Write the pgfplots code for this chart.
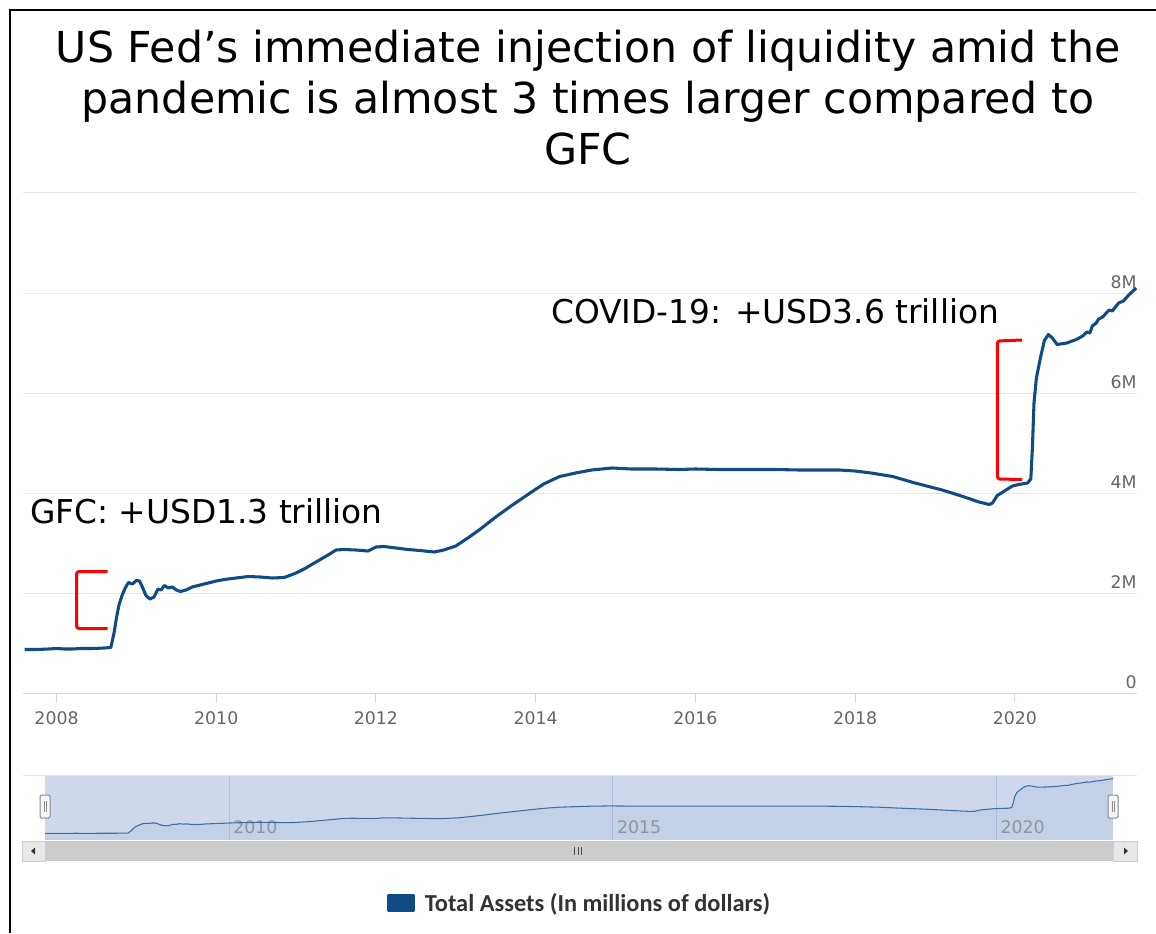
\documentclass[border=0pt]{standalone}
\usepackage{fontspec}
\setmainfont{DejaVu Sans}
\newfontfamily\legfont{Carlito}
\usepackage{pgfplots}
\usepackage{pgfplotstable}
\pgfplotsset{compat=1.18}
\definecolor{lineblue}{RGB}{16,75,134}
\definecolor{gridcol}{RGB}{230,230,230}
\definecolor{axiscol}{RGB}{204,214,235}
\definecolor{labcol}{RGB}{102,102,102}
\definecolor{navbg}{RGB}{207,216,235}
\definecolor{navline}{RGB}{60,110,170}
\definecolor{navgrid}{RGB}{180,193,220}
\definecolor{scroll}{RGB}{204,204,204}
\definecolor{scrollbtn}{RGB}{232,232,232}

\pgfplotstableread{
year val
2007.60 0.87
2007.75 0.87
2007.90 0.88
2008.00 0.89
2008.10 0.88
2008.20 0.88
2008.30 0.89
2008.45 0.89
2008.60 0.90
2008.68 0.91
2008.72 1.20
2008.75 1.50
2008.78 1.75
2008.82 1.95
2008.86 2.10
2008.90 2.21
2008.95 2.18
2009.00 2.25
2009.04 2.24
2009.08 2.10
2009.12 1.95
2009.17 1.88
2009.22 1.92
2009.27 2.08
2009.31 2.06
2009.35 2.15
2009.40 2.10
2009.45 2.12
2009.50 2.06
2009.55 2.03
2009.62 2.06
2009.70 2.12
2009.80 2.16
2009.90 2.20
2010.00 2.24
2010.10 2.27
2010.25 2.30
2010.40 2.33
2010.55 2.32
2010.70 2.30
2010.85 2.31
2011.00 2.40
2011.10 2.48
2011.25 2.62
2011.40 2.76
2011.50 2.86
2011.60 2.87
2011.75 2.86
2011.90 2.84
2012.00 2.92
2012.10 2.93
2012.25 2.90
2012.40 2.87
2012.55 2.85
2012.73 2.82
2012.85 2.86
2013.00 2.94
2013.15 3.10
2013.30 3.27
2013.50 3.52
2013.70 3.75
2013.93 4.00
2014.10 4.18
2014.30 4.33
2014.50 4.40
2014.70 4.46
2014.96 4.50
2015.20 4.48
2015.50 4.48
2015.80 4.47
2016.00 4.48
2016.30 4.47
2016.60 4.47
2017.00 4.47
2017.30 4.46
2017.60 4.46
2017.80 4.46
2018.00 4.44
2018.20 4.40
2018.47 4.33
2018.75 4.20
2019.09 4.06
2019.35 3.93
2019.55 3.82
2019.68 3.77
2019.72 3.80
2019.78 3.95
2019.85 4.02
2019.97 4.14
2020.05 4.17
2020.16 4.20
2020.20 4.28
2020.22 4.90
2020.24 5.80
2020.27 6.30
2020.32 6.70
2020.37 7.05
2020.42 7.17
2020.47 7.10
2020.53 6.97
2020.65 7.00
2020.77 7.07
2020.85 7.14
2020.90 7.22
2020.94 7.20
2020.97 7.34
2021.02 7.40
2021.05 7.48
2021.10 7.52
2021.18 7.66
2021.22 7.64
2021.30 7.80
2021.36 7.84
2021.42 7.95
2021.52 8.10
}\assets

\begin{document}
\begin{tikzpicture}
\path[use as bounding box, fill=white] (0pt,0pt) rectangle (867pt,699.75pt);

% main chart
\begin{axis}[
  at={(17.25pt,180pt)}, anchor=south west,
  scale only axis, width=835.5pt, height=375pt,
  xmin=2007.58, xmax=2021.53, ymin=0, ymax=10,
  axis x line*=bottom, axis y line*=right,
  x axis line style={draw=axiscol, line width=0.75pt, -},
  y axis line style={draw=none},
  xtick={2008,2010,...,2020},
  ytick={0,2,4,6,8,10},
  yticklabels={0,2M,4M,6M,8M,},
  tick align=outside, major tick length=7.5pt,
  xtick style={draw=axiscol, line width=0.75pt},
  ytick style={draw=none},
  ymajorgrids, grid style={draw=gridcol, line width=0.75pt},
  /pgf/number format/assume math mode=true,
  x tick label style={/pgf/number format/1000 sep={}},
  tick label style={font=\fontsize{13}{15}\selectfont, text=labcol},
  xticklabel style={yshift=-3pt},
  yticklabel style={anchor=south east, inner xsep=0.5pt, inner ysep=3pt, xshift=-7pt},
  legend style={at={(0.5,-0.42)}, anchor=center, draw=none, fill=none,
    font=\legfont\bfseries\fontsize{18.3}{21}\selectfont, text=black!80},
  legend image code/.code={\fill[lineblue] (0pt,-5.25pt) rectangle (18.75pt,5.25pt); \path (24pt,0pt);},
  clip=false,
]
\addplot[lineblue, line width=2.3pt, line join=round] table[x=year,y=val]{\assets};
\addlegendentry{Total Assets (In millions of dollars)}
\draw[red, line width=2.25pt, rounded corners=2pt]
  (axis cs:2008.64,2.43) -- (axis cs:2008.25,2.43) -- (axis cs:2008.25,1.29) -- (axis cs:2008.64,1.29);
\draw[red, line width=2.25pt, rounded corners=2pt]
  (axis cs:2020.09,7.06) -- (axis cs:2019.78,7.04) -- (axis cs:2019.78,4.28) -- (axis cs:2020.09,4.27);
\end{axis}

% navigator
\begin{axis}[
  at={(33.75pt,69.75pt)}, anchor=south west,
  scale only axis, width=801pt, height=48.75pt,
  xmin=2007.6, xmax=2021.52, ymin=0, ymax=8.58,
  axis line style={draw=none},
  axis background/.style={fill=navbg},
  ytick=\empty,
  xtick={2010,2015,2020},
  xmajorgrids, grid style={draw=navgrid, line width=0.6pt},
  tick style={draw=none},
  /pgf/number format/assume math mode=true,
  x tick label style={/pgf/number format/1000 sep={}},
  xticklabel style={anchor=south west, inner xsep=3pt, inner ysep=4.5pt, font=\fontsize{13}{15}\selectfont, text=black!40},
]
\addplot[draw=none, fill=navline, fill opacity=0.07] table[x=year,y=val]{\assets} \closedcycle;
\addplot[navline, line width=0.8pt] table[x=year,y=val]{\assets};
\end{axis}

\begin{scope}[x=0.75pt, y=-0.75pt, shift={(0pt,699.75pt)}]
  % frame
  \draw[black, line width=1.6pt] (10,933) -- (10,10) -- (1156,10);
  % title
  \node[anchor=base, inner sep=0, font=\fontsize{32}{38}\selectfont] at (588,63) {US Fed’s immediate injection of liquidity amid the};
  \node[anchor=base, inner sep=0, font=\fontsize{32}{38}\selectfont] at (588,114) {pandemic is almost 3 times larger compared to};
  \node[anchor=base, inner sep=0, font=\fontsize{32}{38}\selectfont] at (588,165) {GFC};
  % annotations
  \node[anchor=base west, inner sep=0, font=\fontsize{24.6}{28}\selectfont] at (30,523) {GFC: +USD1.3 trillion};
  \node[anchor=base west, inner sep=0, font=\fontsize{24.6}{28}\selectfont] at (551,323.3) {COVID-19: +USD3.6 trillion};
  % navigator outline
  \draw[gridcol, line width=0.75pt] (23,775) -- (1137,775);
  % handles
  \filldraw[fill=black!4, draw=black!45, line width=0.75pt, rounded corners=1pt] (40,795) rectangle (50,818);
  \draw[black!45, line width=0.6pt] (44,801) -- (44,812) (46.5,801) -- (46.5,812);
  \filldraw[fill=black!4, draw=black!45, line width=0.75pt, rounded corners=1pt] (1108,795) rectangle (1118,818);
  \draw[black!45, line width=0.6pt] (1112,801) -- (1112,812) (1114.5,801) -- (1114.5,812);
  % scrollbar
  \fill[scroll] (22,841) rectangle (1137,861);
  \filldraw[fill=scrollbtn, draw=scroll, line width=0.75pt] (22,841) rectangle (45,861);
  \filldraw[fill=scrollbtn, draw=scroll, line width=0.75pt] (1113,841) rectangle (1137,861);
  \fill[black!80] (31,851) -- (35,847.5) -- (35,854.5) -- cycle;
  \fill[black!80] (1128,851) -- (1124,847.5) -- (1124,854.5) -- cycle;
  \draw[black!70, line width=0.75pt] (574.5,847) -- (574.5,855) (578,847) -- (578,855) (581.5,847) -- (581.5,855);
\end{scope}
\end{tikzpicture}
\end{document}
